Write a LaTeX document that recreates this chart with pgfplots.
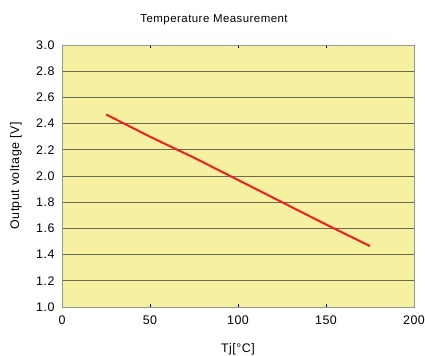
\documentclass[border=0pt]{standalone}
\usepackage{fontspec}
\setmainfont{Liberation Sans}[LetterSpace=4]
\usepackage{pgfplots}
\pgfplotsset{compat=1.18}
\definecolor{plotbg}{RGB}{245,241,160}
\definecolor{gridc}{RGB}{105,105,85}
\definecolor{framec}{RGB}{150,150,150}
\definecolor{linered}{RGB}{240,30,30}

\begin{document}
\begin{tikzpicture}[x=1bp,y=1bp]
\useasboundingbox (0,0) rectangle (425,356);
\begin{axis}[
  at={(62bp,49bp)}, anchor=south west,
  scale only axis, width=352bp, height=262bp,
  xmin=0, xmax=200, ymin=1, ymax=3,
  xtick={0,50,100,150,200},
  ytick={1.0,1.2,1.4,1.6,1.8,2.0,2.2,2.4,2.6,2.8,3.0},
  yticklabel style={/pgf/number format/fixed, /pgf/number format/fixed zerofill, /pgf/number format/precision=1, xshift=-4bp},
  /pgf/number format/assume math mode=true,
  ticklabel style={font=\fontsize{12.5}{13}\selectfont, text=black},
  xticklabel style={yshift=-5bp},
  axis background/.style={fill=plotbg},
  axis line style={framec, line width=0.8bp},
  ymajorgrids, grid style={gridc, line width=0.8bp},
  tick align=inside, major tick length=3bp,
  xtick style={black, line width=0.6bp},
  ytick style={draw=none},
  title={Temperature Measurement},
  title style={at={(axis description cs:0.432,1.075)}, anchor=center, font=\fontsize{11.5}{12}\selectfont},
  xlabel={Tj[°C]},
  xlabel style={at={(axis description cs:0.5,-0.16)}, anchor=center, font=\fontsize{12.5}{13}\selectfont},
  ylabel={Output voltage [V]},
  ylabel style={at={(axis description cs:-0.131,0.5)}, anchor=center, font=\fontsize{12.5}{13}\selectfont},
]
\addplot[linered, line width=2bp, line join=round] coordinates {
  (25,2.47) (50,2.30) (75,2.14) (100,1.97) (125,1.80) (150,1.63) (175,1.465)
};
\draw[black, line width=0.9bp] (axis cs:0,1) -- (axis cs:200,1);
\end{axis}
\end{tikzpicture}
\end{document}
